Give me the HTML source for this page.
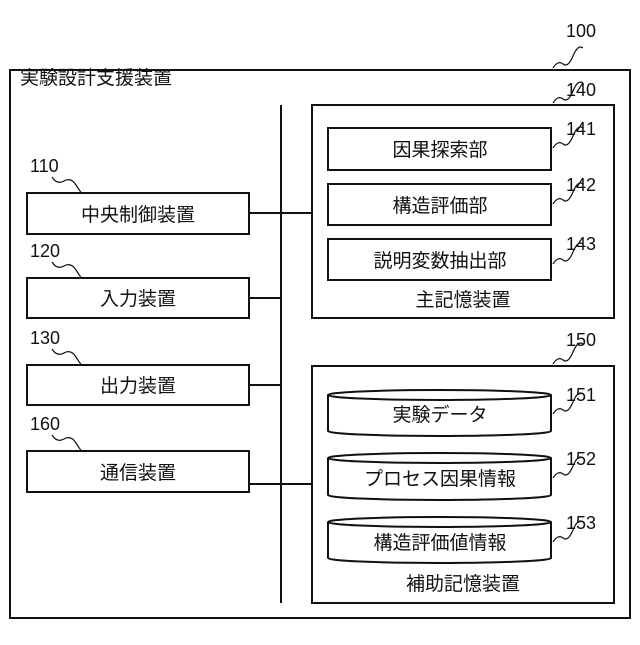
<!DOCTYPE html>
<html><head><meta charset="utf-8"><style>
body{margin:0;background:#fff}
svg text{font-family:"Liberation Sans","Noto Sans CJK JP",sans-serif;fill:#111}
</style></head><body>
<svg width="640" height="640" viewBox="0 0 640 640" xmlns="http://www.w3.org/2000/svg">
<g fill="none" stroke="#111" stroke-width="2">
<rect x="10" y="70" width="620" height="548"/>
<rect x="312" y="105" width="302" height="213"/>
<rect x="312" y="366" width="302" height="237"/>
<rect x="328" y="128" width="223" height="42"/>
<rect x="328" y="184" width="223" height="41"/>
<rect x="328" y="239" width="223" height="41"/>
<rect x="27" y="193" width="222" height="41"/>
<rect x="27" y="278" width="222" height="40"/>
<rect x="27" y="365" width="222" height="40"/>
<rect x="27" y="451" width="222" height="41"/>
<line x1="281" y1="105" x2="281" y2="603"/>
<line x1="249" y1="213" x2="312" y2="213"/>
<line x1="249" y1="298" x2="281" y2="298"/>
<line x1="249" y1="385" x2="281" y2="385"/>
<line x1="249" y1="484" x2="312" y2="484"/>
<!-- cylinders -->
<path d="M328 395 A111.5 5 0 0 1 551 395 V431 A111.5 5 0 0 1 328 431 Z"/><path d="M328 395 A111.5 5 0 0 0 551 395"/>
<path d="M328 458 A111.5 5 0 0 1 551 458 V495 A111.5 5 0 0 1 328 495 Z"/><path d="M328 458 A111.5 5 0 0 0 551 458"/>
<path d="M328 522 A111.5 5 0 0 1 551 522 V558 A111.5 5 0 0 1 328 558 Z"/><path d="M328 522 A111.5 5 0 0 0 551 522"/>
</g>
<g fill="none" stroke="#111" stroke-width="1.2">
<path d="M553 68 q5 -8 10 -4 t10 -8 t10 -8"/>
<path d="M553 103 q5 -8 10 -4 t10 -8 t10 -8"/>
<path d="M553 148 q5 -8 10 -4 t10 -8 t10 -8"/>
<path d="M553 204 q5 -8 10 -4 t10 -8 t10 -8"/>
<path d="M553 264 q5 -8 10 -4 t10 -8 t10 -8"/>
<path d="M553 364 q5 -8 10 -4 t10 -8 t10 -8"/>
<path d="M553 414 q5 -8 10 -4 t10 -8 t10 -8"/>
<path d="M553 478 q5 -8 10 -4 t10 -8 t10 -8"/>
<path d="M553 542 q5 -8 10 -4 t10 -8 t10 -8"/>
<path d="M52 177 q5 8 12 4 t12 4 t6 8"/>
<path d="M52 262 q5 8 12 4 t12 4 t6 8"/>
<path d="M52 349 q5 8 12 4 t12 4 t6 8"/>
<path d="M52 435 q5 8 12 4 t12 4 t6 8"/>
</g>
<g font-size="18">
<text x="566" y="37">100</text>
<text x="566" y="96">140</text>
<text x="566" y="135">141</text>
<text x="566" y="191">142</text>
<text x="566" y="250">143</text>
<text x="566" y="346">150</text>
<text x="566" y="401">151</text>
<text x="566" y="465">152</text>
<text x="566" y="529">153</text>
<text x="30" y="172">110</text>
<text x="30" y="257">120</text>
<text x="30" y="344">130</text>
<text x="30" y="430">160</text>
</g>
<g font-size="19">
<text x="20" y="84">実験設計支援装置</text>
<text x="138" y="221" text-anchor="middle">中央制御装置</text>
<text x="138" y="305" text-anchor="middle">入力装置</text>
<text x="138" y="392" text-anchor="middle">出力装置</text>
<text x="138" y="479" text-anchor="middle">通信装置</text>
<text x="440" y="156" text-anchor="middle">因果探索部</text>
<text x="440" y="212" text-anchor="middle">構造評価部</text>
<text x="440" y="267" text-anchor="middle">説明変数抽出部</text>
<text x="463" y="306" text-anchor="middle">主記憶装置</text>
<text x="440" y="421" text-anchor="middle">実験データ</text>
<text x="440" y="485" text-anchor="middle">プロセス因果情報</text>
<text x="440" y="549" text-anchor="middle">構造評価値情報</text>
<text x="463" y="590" text-anchor="middle">補助記憶装置</text>
</g>
</svg>
</body></html>
